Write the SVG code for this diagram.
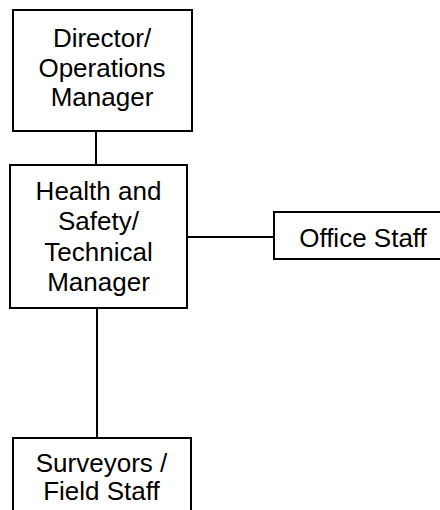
<svg xmlns="http://www.w3.org/2000/svg" width="440" height="510" viewBox="0 0 440 510">
  <style>
    .box { fill: #ffffff; stroke: #000000; stroke-width: 2; }
    .link { stroke: #000000; stroke-width: 2; fill: none; }
    .label { font-family: "Liberation Sans", Arial, sans-serif; font-size: 26px; fill: #000000; text-anchor: middle; }
  </style>
  <rect width="440" height="510" fill="#ffffff"/>
  <g id="connectors">
    <line class="link" x1="96" y1="131" x2="96" y2="165"/>
    <line class="link" x1="187" y1="237" x2="274" y2="237"/>
    <line class="link" x1="97" y1="308" x2="97" y2="438"/>
  </g>
  <g id="director">
    <rect class="box" x="13" y="10" width="179" height="121"/>
    <text class="label" x="102" y="46.5">Director/</text>
    <text class="label" x="102" y="76.5">Operations</text>
    <text class="label" x="102" y="106">Manager</text>
  </g>
  <g id="hs-manager">
    <rect class="box" x="10" y="165" width="177" height="143"/>
    <text class="label" x="98.5" y="199.5">Health and</text>
    <text class="label" x="98.5" y="230">Safety/</text>
    <text class="label" x="98.5" y="261">Technical</text>
    <text class="label" x="98.5" y="290.5">Manager</text>
  </g>
  <g id="office-staff">
    <rect class="box" x="274" y="212" width="178" height="47"/>
    <text class="label" x="363" y="246.5">Office Staff</text>
  </g>
  <g id="field-staff">
    <rect class="box" x="13" y="438" width="178" height="80"/>
    <text class="label" x="101.5" y="471.5">Surveyors /</text>
    <text class="label" x="101.5" y="500">Field Staff</text>
  </g>
</svg>
